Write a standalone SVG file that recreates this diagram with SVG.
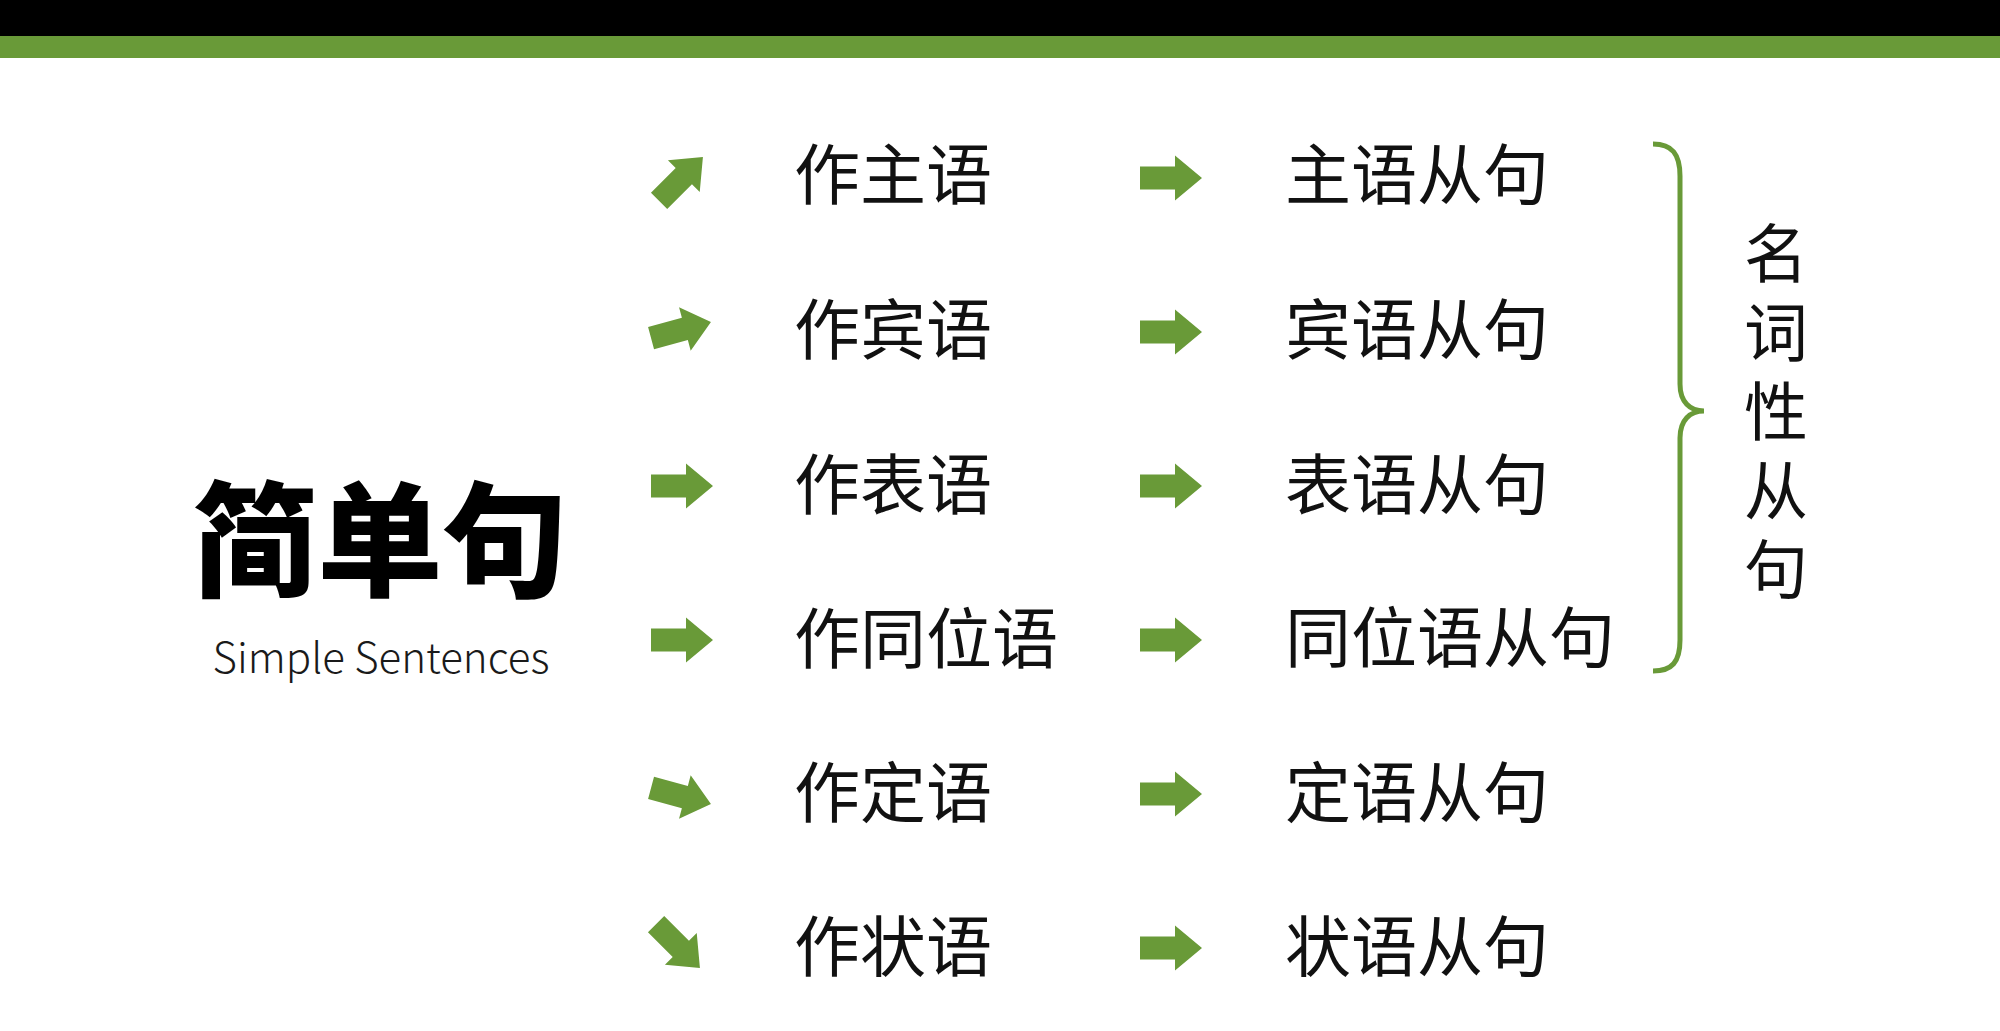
<svg xmlns="http://www.w3.org/2000/svg" width="2000" height="1031" viewBox="0 0 2000 1031">
  <style>
    .t { font-family: "Noto Sans CJK SC", "Noto Sans", sans-serif; font-size: 66px; fill: #111; dominant-baseline: central; }
    .v { font-family: "Noto Sans CJK SC", "Noto Sans", sans-serif; font-size: 64px; fill: #111; writing-mode: vertical-rl; letter-spacing: 15px; }
    .title { font-family: "Noto Sans CJK SC", sans-serif; font-size: 125px; font-weight: 900; fill: #000; text-anchor: middle; dominant-baseline: central; }
    .sub { font-family: "Noto Sans CJK SC", "Noto Sans", sans-serif; font-size: 42px; font-weight: 300; fill: #1a1a1a; text-anchor: middle; }
    .arr { fill: #699a38; }
  </style>
  <defs>
    <path id="arrow" d="M-31,-11.5 H4 V-22.5 L31,0 L4,22.5 V11.5 H-31 Z"/>
  </defs>
  <rect x="0" y="0" width="2000" height="1031" fill="#ffffff"/>
  <rect x="0" y="0" width="2000" height="36" fill="#000000"/>
  <rect x="0" y="36" width="2000" height="22" fill="#699a38"/>

  <g id="title">
    <text class="title" x="380" y="532">简单句</text>
    <text class="sub" x="381" y="673">Simple Sentences</text>
  </g>

  <g id="connectors">
    <use href="#arrow" class="arr" transform="translate(681,179) rotate(-45)"/>
    <use href="#arrow" class="arr" transform="translate(681,330) rotate(-15)"/>
    <use href="#arrow" class="arr" transform="translate(682,486)"/>
    <use href="#arrow" class="arr" transform="translate(682,640)"/>
    <use href="#arrow" class="arr" transform="translate(681,796) rotate(15)"/>
    <use href="#arrow" class="arr" transform="translate(678,946) rotate(45)"/>
    <use href="#arrow" class="arr" transform="translate(1171,178)"/>
    <use href="#arrow" class="arr" transform="translate(1171,332)"/>
    <use href="#arrow" class="arr" transform="translate(1171,486)"/>
    <use href="#arrow" class="arr" transform="translate(1171,640)"/>
    <use href="#arrow" class="arr" transform="translate(1171,794)"/>
    <use href="#arrow" class="arr" transform="translate(1171,948)"/>
    <path d="M1653,144 C1672,144 1680,154 1680,176 V384 C1680,402 1690,411 1704,411 C1690,411 1680,420 1680,438 V640 C1680,662 1672,671 1653,671" fill="none" stroke="#699a38" stroke-width="5"/>
  </g>

  <g id="n-subj"><text class="t" x="794" y="170">作主语</text></g>
  <g id="n-obj"><text class="t" x="794" y="325">作宾语</text></g>
  <g id="n-pred"><text class="t" x="794" y="480">作表语</text></g>
  <g id="n-appo"><text class="t" x="794" y="634">作同位语</text></g>
  <g id="n-attr"><text class="t" x="794" y="788">作定语</text></g>
  <g id="n-adv"><text class="t" x="794" y="942">作状语</text></g>

  <g id="c-subj"><text class="t" x="1285" y="170">主语从句</text></g>
  <g id="c-obj"><text class="t" x="1285" y="325">宾语从句</text></g>
  <g id="c-pred"><text class="t" x="1285" y="480">表语从句</text></g>
  <g id="c-appo"><text class="t" x="1285" y="633">同位语从句</text></g>
  <g id="c-attr"><text class="t" x="1285" y="788">定语从句</text></g>
  <g id="c-adv"><text class="t" x="1285" y="942">状语从句</text></g>

  <g id="noun-clause">
    <text class="v" x="1776" y="221">名词性从句</text>
  </g>
</svg>
